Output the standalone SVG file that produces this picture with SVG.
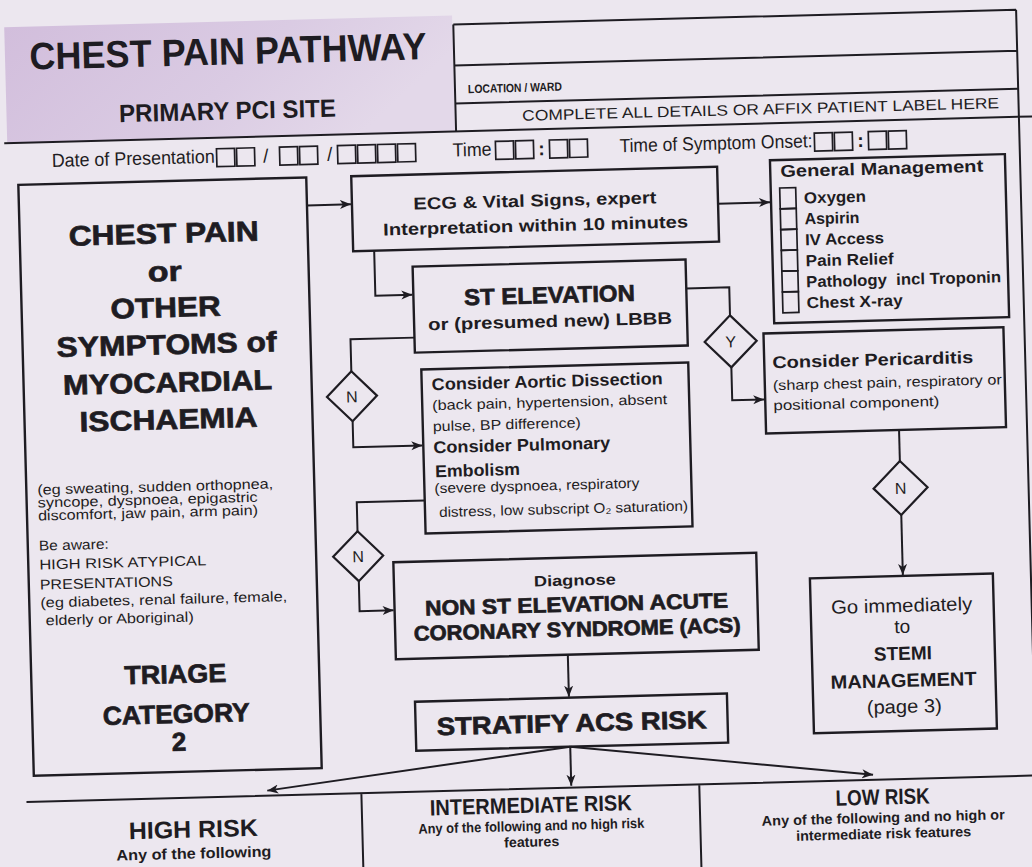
<svg xmlns="http://www.w3.org/2000/svg" width="1032" height="867" viewBox="0 0 1032 867">
<defs>
<linearGradient id="pg" x1="0" y1="0" x2="1" y2="0.3">
<stop offset="0" stop-color="#d2bedc"/>
<stop offset="0.6" stop-color="#dacbe3"/>
<stop offset="1" stop-color="#e3d8e9"/>
</linearGradient>
<marker id="ah" markerUnits="userSpaceOnUse" markerWidth="12" markerHeight="10" refX="11" refY="5" orient="auto">
<path d="M0,0.5 L11,5 L0,9.5 L3,5 z" fill="#1e1c22"/>
</marker>
<style>
.bx{fill:none;stroke:#1e1c22;stroke-width:2.4}
.ln{fill:none;stroke:#1e1c22;stroke-width:2}
.ar{marker-end:url(#ah)}
.cb{fill:none;stroke:#1e1c22;stroke-width:1.7}
.dm{fill:#ece7ef;stroke:#1e1c22;stroke-width:2.2}
text{font-family:"Liberation Sans",Arial,sans-serif;fill:#1e1c22}
.b{font-weight:bold}
.h{font-weight:bold;stroke:#1e1c22;stroke-width:0.7}
.c{text-anchor:middle}
</style>
</defs>
<rect width="1032" height="867" fill="#ece7ef"/>
<g transform="rotate(-1.5 516 433)">
<g id="header">
<rect x="15" y="14" width="448" height="116" fill="url(#pg)"/>
<text class="b c" x="238" y="57" font-size="38" textLength="397" lengthAdjust="spacingAndGlyphs">CHEST PAIN PATHWAY</text>
<text class="b c" x="236" y="112" font-size="25" textLength="217" lengthAdjust="spacingAndGlyphs">PRIMARY PCI SITE</text>
<path class="ln" d="M464,23 H1027 M464,23 V130 M464,64 H1027 M464,102 H1027 M1027,23 V789"/>
<path class="ln" d="M12,130 H1045"/>
<text class="b" x="477" y="92" font-size="12" textLength="94" lengthAdjust="spacingAndGlyphs">LOCATION / WARD</text>
<text class="c" x="769" y="121" font-size="15" textLength="477" lengthAdjust="spacingAndGlyphs">COMPLETE ALL DETAILS OR AFFIX PATIENT LABEL HERE</text>
</g>
<g id="date-row">
<text x="59" y="155" font-size="19" textLength="163" lengthAdjust="spacingAndGlyphs">Date of Presentation</text>
<rect class="cb" x="224" y="141" width="18" height="18"/><rect class="cb" x="244" y="141" width="18" height="18"/>
<text class="c" x="273" y="156" font-size="19">/</text>
<rect class="cb" x="287" y="141" width="18" height="18"/><rect class="cb" x="307" y="141" width="18" height="18"/>
<text class="c" x="337" y="156" font-size="19">/</text>
<rect class="cb" x="345" y="141" width="18" height="18"/><rect class="cb" x="365" y="141" width="18" height="18"/><rect class="cb" x="385" y="141" width="18" height="18"/><rect class="cb" x="405" y="141" width="18" height="18"/>
<text x="460" y="155" font-size="19" textLength="39" lengthAdjust="spacingAndGlyphs">Time</text>
<rect class="cb" x="503" y="141" width="18" height="18"/><rect class="cb" x="523" y="141" width="18" height="18"/>
<text class="c b" x="549" y="156" font-size="19">:</text>
<rect class="cb" x="557" y="141" width="18" height="18"/><rect class="cb" x="577" y="141" width="18" height="18"/>
<text x="627" y="155" font-size="19" textLength="193" lengthAdjust="spacingAndGlyphs">Time of Symptom Onset:</text>
<rect class="cb" x="822" y="141" width="18" height="18"/><rect class="cb" x="842" y="141" width="18" height="18"/>
<text class="c b" x="868" y="156" font-size="19">:</text>
<rect class="cb" x="876" y="141" width="18" height="18"/><rect class="cb" x="896" y="141" width="18" height="18"/>
</g>
<g id="n-chest-pain">
<rect class="bx" x="25" y="172" width="288" height="591"/>
<text class="h c" x="169" y="234" font-size="28" textLength="190" lengthAdjust="spacingAndGlyphs">CHEST PAIN</text>
<text class="h c" x="169" y="272" font-size="28" textLength="34" lengthAdjust="spacingAndGlyphs">or</text>
<text class="h c" x="169" y="308" font-size="28" textLength="110" lengthAdjust="spacingAndGlyphs">OTHER</text>
<text class="h c" x="169" y="345" font-size="28" textLength="220" lengthAdjust="spacingAndGlyphs">SYMPTOMS of</text>
<text class="h c" x="169" y="383" font-size="28" textLength="209" lengthAdjust="spacingAndGlyphs">MYOCARDIAL</text>
<text class="h c" x="169" y="420" font-size="28" textLength="178" lengthAdjust="spacingAndGlyphs">ISCHAEMIA</text>
<text x="36" y="482" font-size="14" textLength="236" lengthAdjust="spacingAndGlyphs">(eg sweating, sudden orthopnea,</text>
<text x="36" y="495" font-size="14" textLength="220" lengthAdjust="spacingAndGlyphs">syncope, dyspnoea, epigastric</text>
<text x="36" y="508" font-size="14" textLength="220" lengthAdjust="spacingAndGlyphs">discomfort, jaw pain, arm pain)</text>
<text x="36" y="538" font-size="14" textLength="70" lengthAdjust="spacingAndGlyphs">Be aware:</text>
<text x="36" y="557" font-size="14" textLength="167" lengthAdjust="spacingAndGlyphs">HIGH RISK ATYPICAL</text>
<text x="36" y="577" font-size="14" textLength="133" lengthAdjust="spacingAndGlyphs">PRESENTATIONS</text>
<text x="36" y="595" font-size="14" textLength="247" lengthAdjust="spacingAndGlyphs">(eg diabetes, renal failure, female,</text>
<text x="41" y="613" font-size="14" textLength="148" lengthAdjust="spacingAndGlyphs">elderly or Aboriginal)</text>
<text class="h c" x="169" y="674" font-size="26" textLength="102" lengthAdjust="spacingAndGlyphs">TRIAGE</text>
<text class="h c" x="169" y="714" font-size="26" textLength="147" lengthAdjust="spacingAndGlyphs">CATEGORY</text>
<text class="h c" x="171" y="742" font-size="26">2</text>
</g>
<g id="n-ecg">
<rect class="bx" x="358" y="172" width="366" height="75"/>
<text class="b c" x="541" y="207" font-size="17" textLength="243" lengthAdjust="spacingAndGlyphs">ECG &amp; Vital Signs, expert</text>
<text class="b c" x="541" y="232" font-size="17" textLength="305" lengthAdjust="spacingAndGlyphs">Interpretation within 10 minutes</text>
</g>
<g id="n-st">
<rect class="bx" x="417" y="264" width="273" height="86"/>
<text class="h c" x="553" y="304" font-size="23" textLength="171" lengthAdjust="spacingAndGlyphs">ST ELEVATION</text>
<text class="b c" x="553" y="328" font-size="17" textLength="244" lengthAdjust="spacingAndGlyphs">or (presumed new) LBBB</text>
</g>
<g id="n-consider">
<rect class="bx" x="423" y="367" width="267" height="164"/>
<text class="b" x="433" y="388" font-size="17" textLength="231" lengthAdjust="spacingAndGlyphs">Consider Aortic Dissection</text>
<text x="433" y="408" font-size="14" textLength="235" lengthAdjust="spacingAndGlyphs">(back pain, hypertension, absent</text>
<text x="433" y="429" font-size="14" textLength="148" lengthAdjust="spacingAndGlyphs">pulse, BP difference)</text>
<text class="b" x="433" y="451" font-size="17" textLength="177" lengthAdjust="spacingAndGlyphs">Consider Pulmonary</text>
<text class="b" x="434" y="475" font-size="17" textLength="85" lengthAdjust="spacingAndGlyphs">Embolism</text>
<text x="433" y="491" font-size="14" textLength="205" lengthAdjust="spacingAndGlyphs">(severe dyspnoea, respiratory</text>
<text x="437" y="515" font-size="14" textLength="249" lengthAdjust="spacingAndGlyphs">distress, low subscript O₂ saturation)</text>
</g>
<g id="n-general-management">
<rect class="bx" x="777" y="167" width="235" height="163" fill="#dccfe5"/>
<text class="b" x="787" y="184" font-size="17" textLength="203" lengthAdjust="spacingAndGlyphs">General Management</text>
<rect class="cb" x="786" y="195" width="16" height="20.8"/>
<rect class="cb" x="786" y="215.8" width="16" height="20.8"/>
<rect class="cb" x="786" y="236.6" width="16" height="20.8"/>
<rect class="cb" x="786" y="257.4" width="16" height="20.8"/>
<rect class="cb" x="786" y="278.2" width="16" height="20.8"/>
<rect class="cb" x="786" y="299" width="16" height="20.8"/>
<text class="b" x="810" y="211" font-size="16" textLength="62" lengthAdjust="spacingAndGlyphs">Oxygen</text>
<text class="b" x="810" y="232" font-size="16" textLength="55" lengthAdjust="spacingAndGlyphs">Aspirin</text>
<text class="b" x="810" y="253" font-size="16" textLength="79" lengthAdjust="spacingAndGlyphs">IV Access</text>
<text class="b" x="810" y="274" font-size="16" textLength="88" lengthAdjust="spacingAndGlyphs">Pain Relief</text>
<text class="b" x="810" y="295" font-size="16" textLength="195" lengthAdjust="spacingAndGlyphs" style="white-space:pre">Pathology  incl Troponin</text>
<text class="b" x="810" y="316" font-size="16" textLength="96" lengthAdjust="spacingAndGlyphs">Chest X-ray</text>
</g>
<g id="n-pericarditis">
<rect class="bx" x="766" y="340" width="240" height="100"/>
<text class="b" x="774" y="375" font-size="17" textLength="201" lengthAdjust="spacingAndGlyphs">Consider Pericarditis</text>
<text x="774" y="397" font-size="14" textLength="229" lengthAdjust="spacingAndGlyphs">(sharp chest pain, respiratory or</text>
<text x="774" y="417" font-size="14" textLength="166" lengthAdjust="spacingAndGlyphs">positional component)</text>
</g>
<g id="d-n1"><polygon class="dm" points="353,367 378,392 353,417 328,392"/><text class="c" x="353" y="398" font-size="16">N</text></g>
<g id="d-n2"><polygon class="dm" points="355,527 380,552 355,577 330,552"/><text class="c" x="355" y="558" font-size="16">N</text></g>
<g id="d-y"><polygon class="dm" points="733,321 759,347 733,373 707,347"/><text class="c" x="733" y="353" font-size="16">Y</text></g>
<g id="d-n3"><polygon class="dm" points="899,471 926,498 899,525 872,498"/><text class="c" x="899" y="504" font-size="16">N</text></g>
<g id="n-non-st">
<rect class="bx" x="390" y="559" width="363" height="97"/>
<text class="b c" x="571" y="587" font-size="15" textLength="82" lengthAdjust="spacingAndGlyphs">Diagnose</text>
<text class="h c" x="572" y="613" font-size="21" textLength="303" lengthAdjust="spacingAndGlyphs">NON ST ELEVATION ACUTE</text>
<text class="h c" x="572" y="638" font-size="21" textLength="327" lengthAdjust="spacingAndGlyphs">CORONARY SYNDROME (ACS)</text>
</g>
<g id="n-stratify">
<rect class="bx" x="408" y="699" width="312" height="49"/>
<text class="h c" x="564" y="733" font-size="25" textLength="270" lengthAdjust="spacingAndGlyphs">STRATIFY ACS RISK</text>
</g>
<g id="n-stemi">
<rect class="bx" x="806" y="586" width="183" height="155"/>
<text class="c" x="897" y="622" font-size="19" textLength="141" lengthAdjust="spacingAndGlyphs">Go immediately</text>
<text class="c" x="897" y="643" font-size="19">to</text>
<text class="b c" x="897" y="670" font-size="19" textLength="58" lengthAdjust="spacingAndGlyphs">STEMI</text>
<text class="b c" x="897" y="697" font-size="19" textLength="146" lengthAdjust="spacingAndGlyphs">MANAGEMENT</text>
<text class="c" x="897" y="723" font-size="19" textLength="75" lengthAdjust="spacingAndGlyphs">(page 3)</text>
</g>
<g id="risk-band">
<path class="ln" d="M17,789 H1045 M352,789 V900 M690,789 V900"/>
<text class="b c" x="183" y="829" font-size="24" textLength="129" lengthAdjust="spacingAndGlyphs">HIGH RISK</text>
<text class="b c" x="183" y="850" font-size="15" textLength="155" lengthAdjust="spacingAndGlyphs">Any of the following</text>
<text class="b c" x="521" y="813" font-size="22" textLength="202" lengthAdjust="spacingAndGlyphs">INTERMEDIATE RISK</text>
<text class="b c" x="521" y="831" font-size="14" textLength="226" lengthAdjust="spacingAndGlyphs">Any of the following and no high risk</text>
<text class="b c" x="521" y="847" font-size="14" textLength="55" lengthAdjust="spacingAndGlyphs">features</text>
<text class="b c" x="873" y="814" font-size="22" textLength="94" lengthAdjust="spacingAndGlyphs">LOW RISK</text>
<text class="b c" x="873" y="832" font-size="14" textLength="243" lengthAdjust="spacingAndGlyphs">Any of the following and no high or</text>
<text class="b c" x="873" y="848" font-size="14" textLength="175" lengthAdjust="spacingAndGlyphs">intermediate risk features</text>
</g>
<g id="connectors">
<path class="ln ar" d="M313,200 H357"/>
<path class="ln ar" d="M724,209 H776"/>
<path class="ln ar" d="M379,247 V292 H416"/>
<path class="ln" d="M417,335 H353 V367"/>
<path class="ln ar" d="M353,417 V443 H422"/>
<path class="ln" d="M423,498 H355 V527"/>
<path class="ln ar" d="M355,577 V607 H389"/>
<path class="ln" d="M690,293 H733 V321"/>
<path class="ln ar" d="M733,373 V406 H765"/>
<path class="ln" d="M899,440 V471"/>
<path class="ln ar" d="M899,525 V585"/>
<path class="ln ar" d="M562,656 V698"/>
<path class="ln ar" d="M562,748 V787"/>
<path class="ln ar" d="M562,748 L258,784"/>
<path class="ln ar" d="M562,748 L864,784"/>
</g>
</g>
</svg>
